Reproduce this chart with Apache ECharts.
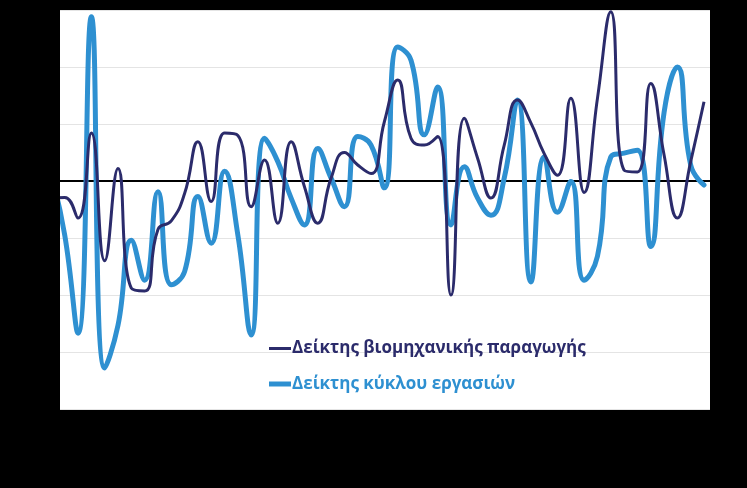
<!DOCTYPE html>
<html>
<head>
<meta charset="utf-8">
<script src="https://cdn.jsdelivr.net/npm/echarts@6/dist/echarts.min.js"></script>
<style>
  html, body { margin: 0; padding: 0; background: #000; }
  #chart { width: 747px; height: 488px; }
</style>
</head>
<body>
<div id="chart"></div>
<script>
// periods (quarters), the first one lies just left of the plot and is clipped
var periods = [];
for (var p = 0; p < 50; p++) periods.push(p);

var industryName = 'Δείκτης βιομηχανικής παραγωγής';
var turnoverName = 'Δείκτης κύκλου εργασιών';

var industry = [
    -0.30, -0.29, -0.65, 0.84, -1.40, 0.22, -1.88, -1.93, -0.85, -0.70,
    -0.22, 0.69, -0.36, 0.84, 0.80, -0.45, 0.37, -0.74, 0.69, -0.10,
    -0.74, 0.05, 0.50, 0.28, 0.13, 1.04, 1.77, 0.75, 0.63, 0.78,
    -2.00, 1.10, 0.40, -0.30, 0.63, 1.42, 1.02, 0.48, 0.10, 1.45,
    -0.20, 1.45, 2.97, 0.19, 0.16, 1.71, 0.46, -0.65, 0.34, 1.39
];

var turnover = [
    0.10, -0.95, -2.67, 2.88, -3.28, -2.53, -1.04, -1.74, -0.19, -1.82,
    -1.59, -0.27, -1.09, 0.17, -0.95, -2.70, 0.75, 0.34, -0.30, -0.77,
    0.57, 0.05, -0.45, 0.78, 0.63, -0.12, 2.35, 2.12, 0.81, 1.65,
    -0.77, 0.25, -0.30, -0.60, 0.05, 1.42, -1.77, 0.42, -0.55, -0.01,
    -1.74, -1.32, 0.42, 0.49, 0.54, -1.15, 1.20, 2.00, 0.28, -0.07
];

var yTicks = [-4, -3, -2, -1, 0, 1, 2, 3];

var darkBlue = '#2b2b6b';
var lightBlue = '#2e90d1';

function pairs(values) {
    var res = [];
    for (var i = 0; i < values.length; i++) res.push([periods[i], values[i]]);
    return res;
}

var chart = echarts.init(document.getElementById('chart'));

chart.setOption({
    backgroundColor: '#000',
    animation: false,
    grid: {
        left: 60, top: 10, width: 650, height: 399,
        show: true, backgroundColor: '#fff', borderWidth: 0
    },
    // hides the bit of line that the clip lets through left of the plot
    graphic: [{
        type: 'rect', left: 0, top: 0, z: 100,
        shape: { width: 60, height: 420 },
        style: { fill: '#000' }
    }],
    legend: {
        orient: 'vertical',
        left: 264, top: 335,
        itemWidth: 22, itemHeight: 14, itemGap: 18.5,
        textStyle: { fontFamily: 'Open Sans', fontSize: 17, fontWeight: 'bold', padding: [0, 0, 0, -4] },
        data: [
            { name: industryName, icon: 'path://M0,0H22V3H0Z', textStyle: { color: darkBlue } },
            { name: turnoverName, icon: 'path://M0,0H22V5H0Z', textStyle: { color: lightBlue } }
        ]
    },
    xAxis: {
        type: 'value',
        min: 0.645, max: 49.45,
        axisLine: { onZero: true, lineStyle: { color: '#000', width: 2 } },
        axisTick: { show: false },
        axisLabel: { show: false },
        splitLine: { show: false }
    },
    yAxis: {
        type: 'value',
        min: yTicks[0], max: yTicks[yTicks.length - 1], interval: 1,
        axisLine: { show: false },
        axisTick: { show: true, length: 4, lineStyle: { color: '#111' } },
        axisLabel: { color: '#000', fontSize: 12 },
        splitLine: { lineStyle: { color: '#e4e4e4', width: 1 } }
    },
    series: [
        {
            name: industryName,
            type: 'line',
            data: pairs(industry),
            smooth: 0.5,
            symbol: 'none',
            lineStyle: { color: darkBlue, width: 3 },
            itemStyle: { color: darkBlue },
            z: 3
        },
        {
            name: turnoverName,
            type: 'line',
            data: pairs(turnover),
            smooth: 0.5,
            symbol: 'none',
            lineStyle: { color: lightBlue, width: 5, cap: 'round' },
            itemStyle: { color: lightBlue },
            z: 2
        }
    ]
});
</script>
</body>
</html>
